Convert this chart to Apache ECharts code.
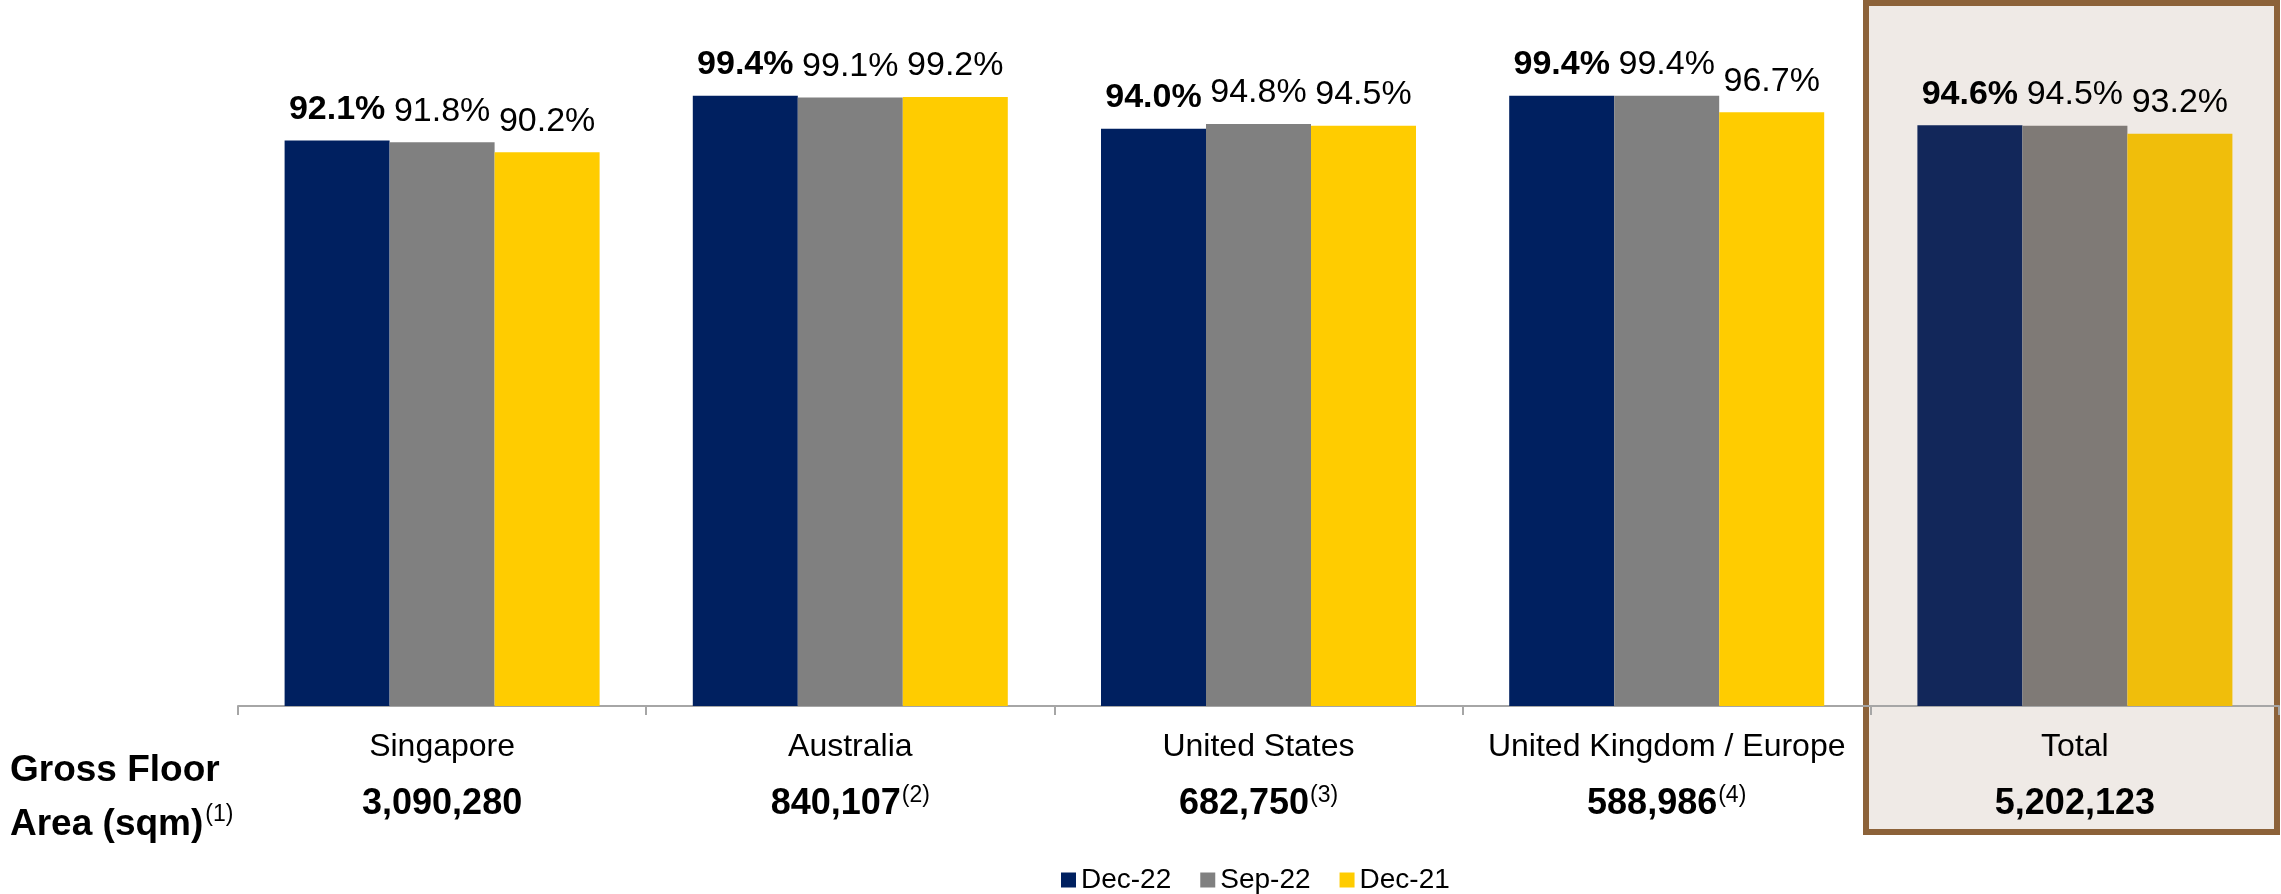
<!DOCTYPE html>
<html>
<head>
<meta charset="utf-8">
<script src="https://cdn.jsdelivr.net/npm/echarts@6/dist/echarts.min.js"></script>
<style>
  html, body { margin: 0; padding: 0; background: #fff; }
  #chart { width: 2281px; height: 894px; }
</style>
</head>
<body>
<div id="chart"></div>
<script>
// categories and footnotes
const categories = ['Singapore', 'Australia', 'United States', 'United Kingdom / Europe', 'Total'];
const gfaValues = ['3,090,280', '840,107', '682,750', '588,986', '5,202,123'];
const gfaNotes = ['', '(2)', '(3)', '(4)', ''];

// occupancy (%)
const seriesNames = ['Dec-22', 'Sep-22', 'Dec-21'];
const dec22 = [92.1, 99.4, 94.0, 99.4, 94.6];
const sep22 = [91.8, 99.1, 94.8, 99.4, 94.5];
const dec21 = [90.2, 99.2, 94.5, 96.7, 93.2];

const colors = ['#002060', '#808080', '#FFCC00'];
// the Total column sits under a tinted panel, so its bars look a bit muted
const totalColors = ['#12275A', '#7F7A76', '#F0BE0B'];
const FONT = '"Liberation Sans", Arial, sans-serif';

const chart = echarts.init(document.getElementById('chart'), null, { renderer: 'canvas' });

function makeSeries(name, values, idx) {
    return {
        name: name,
        type: 'bar',
        barWidth: 105,
        barGap: '0%',
        itemStyle: { color: colors[idx] },
        label: {
            show: true,
            position: 'top',
            distance: 14,
            color: '#000',
            fontFamily: FONT,
            fontSize: 34,
            fontWeight: idx === 0 ? 'bold' : 'normal',
            formatter: p => p.value.toFixed(1) + '%'
        },
        data: values.map((v, i) => i === categories.length - 1
            ? { value: v, itemStyle: { color: totalColors[idx] } }
            : v)
    };
}

const option = {
    animation: false,
    textStyle: { fontFamily: FONT },
    title: {
        left: 10,
        top: 744,
        padding: 0,
        text: '{b|Gross Floor}\n{b|Area (sqm)}{sup|(1)}',
        textStyle: {
            rich: {
                b: { fontFamily: FONT, fontSize: 37, fontWeight: 'bold', color: '#000', lineHeight: 54 },
                sup: { fontFamily: FONT, fontSize: 23, fontWeight: 'normal', color: '#000', lineHeight: 23, padding: [0, 0, 20, 2] }
            }
        }
    },
    legend: {
        left: 1061,
        top: 866,
        padding: 0,
        itemWidth: 15,
        itemHeight: 15,
        itemGap: 29,
        icon: 'rect',
        textStyle: { fontFamily: FONT, fontSize: 28, color: '#000' },
        data: seriesNames
    },
    grid: {
        left: 238,
        right: 2,
        top: 92,
        bottom: 188,
        containLabel: false
    },
    graphic: [
        {
            type: 'rect',
            z: -1,
            silent: true,
            shape: { x: 1866, y: 3, width: 411, height: 829 },
            style: { fill: '#EFEAE6', stroke: '#8C6239', lineWidth: 6 }
        }
    ],
    xAxis: {
        type: 'category',
        data: categories,
        axisLine: { show: true, lineStyle: { color: '#A6A6A6', width: 2 } },
        axisTick: { show: true, length: 9, lineStyle: { color: '#A6A6A6', width: 2 } },
        axisLabel: {
            interval: 0,
            margin: 13,
            formatter: (value, i) => {
                const note = gfaNotes[i] ? '{sup|' + gfaNotes[i] + '}' : '';
                return '{name|' + value + '}\n{gfa|' + gfaValues[i] + '}' + note;
            },
            rich: {
                name: { fontFamily: FONT, fontSize: 32, color: '#000', lineHeight: 57 },
                gfa: { fontFamily: FONT, fontSize: 36, fontWeight: 'bold', color: '#000', lineHeight: 57 },
                sup: { fontFamily: FONT, fontSize: 23, color: '#000', lineHeight: 23, padding: [0, 0, 18, 1] }
            }
        }
    },
    yAxis: {
        type: 'value',
        min: 0,
        max: 100,
        show: false,
        splitLine: { show: false }
    },
    series: [
        makeSeries(seriesNames[0], dec22, 0),
        makeSeries(seriesNames[1], sep22, 1),
        makeSeries(seriesNames[2], dec21, 2)
    ]
};

chart.setOption(option);
</script>
</body>
</html>
